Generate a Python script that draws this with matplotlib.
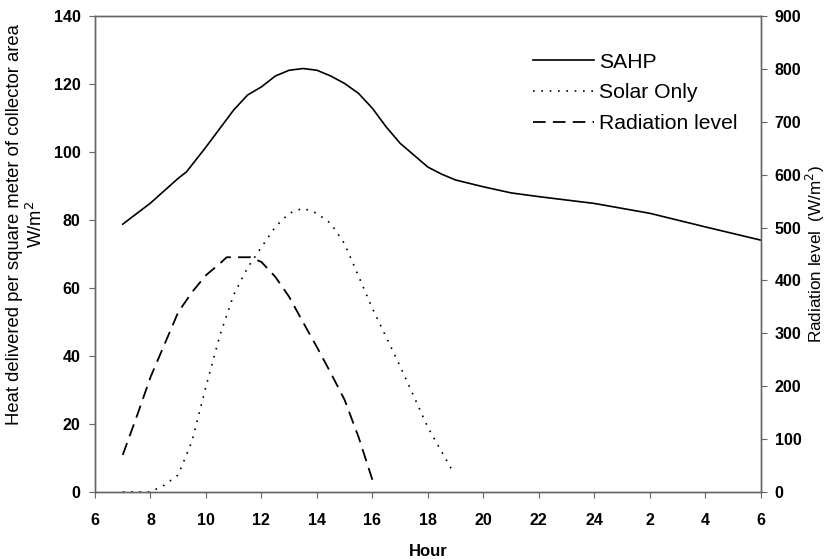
import numpy as np
import matplotlib.pyplot as plt

# hours run past midnight, so 26 = 2 am etc.
sahp_hours = [7, 8, 9, 9.3, 10, 11, 11.5, 12, 12.5, 13, 13.5, 14, 14.5, 15, 15.5,
              16, 16.5, 17, 18, 18.5, 19, 20, 21, 22, 24, 26, 28, 30]
sahp = [78.8, 85, 92.3, 94.2, 101.5, 112.4, 116.8, 119.2, 122.4, 124.1, 124.6, 124.1,
        122.4, 120.2, 117.3, 112.9, 107.4, 102.6, 95.6, 93.5, 91.8, 89.8, 88, 86.9,
        84.9, 82, 78, 74.1]

solar_hours = [7, 8, 8.5, 9, 9.5, 10, 10.5, 11, 11.5, 12, 12.5, 13, 13.5, 14, 14.5,
               15, 16, 17, 18, 18.9]
solar = [0, 0, 2, 5, 15, 31, 46, 58, 66, 72, 78, 82, 83.5, 82, 79, 73, 54, 37, 19, 6]

rad_hours = [7, 7.5, 8, 9, 9.5, 10, 10.5, 10.75, 11.6, 12, 12.5, 13, 13.5, 14, 14.5,
             15, 15.5, 16]
radiation = [70, 142, 217, 340, 378, 410, 432, 444, 444, 435, 407, 369, 321, 274, 225,
             174, 104, 23]

xtick_pos = list(range(6, 31, 2))
xtick_labels = ['6', '8', '10', '12', '14', '16', '18', '20', '22', '24', '2', '4', '6']

plt.rcParams['font.family'] = ['Liberation Sans', 'DejaVu Sans']
spine_col = '#666666'

fig = plt.figure(figsize=(8.26, 5.59), dpi=100)
ax = fig.add_axes([0.115, 0.12, 0.806, 0.851])
ax2 = ax.twinx()

l1, = ax.plot(sahp_hours, sahp, color='black', lw=1.2, label='SAHP')
l2, = ax.plot(solar_hours, solar, color='black', lw=1.2, linestyle=(0, (1, 4)),
              label='Solar Only')
l3, = ax2.plot(rad_hours, radiation, color='black', lw=1.3, linestyle=(0, (7, 4)),
               label='Radiation level')

ax.set_xlim(6, 30)
ax.set_ylim(0, 140)
ax2.set_ylim(0, 900)
ax.set_xticks(xtick_pos)
ax.set_xticklabels(xtick_labels)
ax.set_yticks(range(0, 141, 20))
ax2.set_yticks(range(0, 901, 100))

for a in (ax, ax2):
    for s in a.spines.values():
        s.set_color(spine_col)
        s.set_linewidth(1)
    a.tick_params(length=4, width=0.8, color=spine_col, labelsize=11.5)
    for lab in a.get_xticklabels() + a.get_yticklabels():
        lab.set_fontweight('bold')
ax.tick_params(axis='x', pad=11)
ax.tick_params(axis='y', pad=6.5)
ax2.tick_params(axis='y', pad=6)

ax.set_xlabel('Hour', fontsize=12, fontweight='bold', labelpad=12)
ax.set_ylabel('Heat delivered per square meter of collector area\nW/m$^2$',
              fontsize=13.3, labelpad=4)
ax.yaxis.set_label_coords(-0.073, 0.563)
ax2.set_ylabel('Radiation level  (W/m$^2$)', fontsize=12.3, labelpad=2)

ax2.legend(handles=[l1, l2, l3], loc='upper right', bbox_to_anchor=(0.994, 0.963),
           frameon=False, fontsize=15.2, handlelength=2.9, handletextpad=0.25,
           labelspacing=0.55)

fig.savefig('out.png', dpi=100)
